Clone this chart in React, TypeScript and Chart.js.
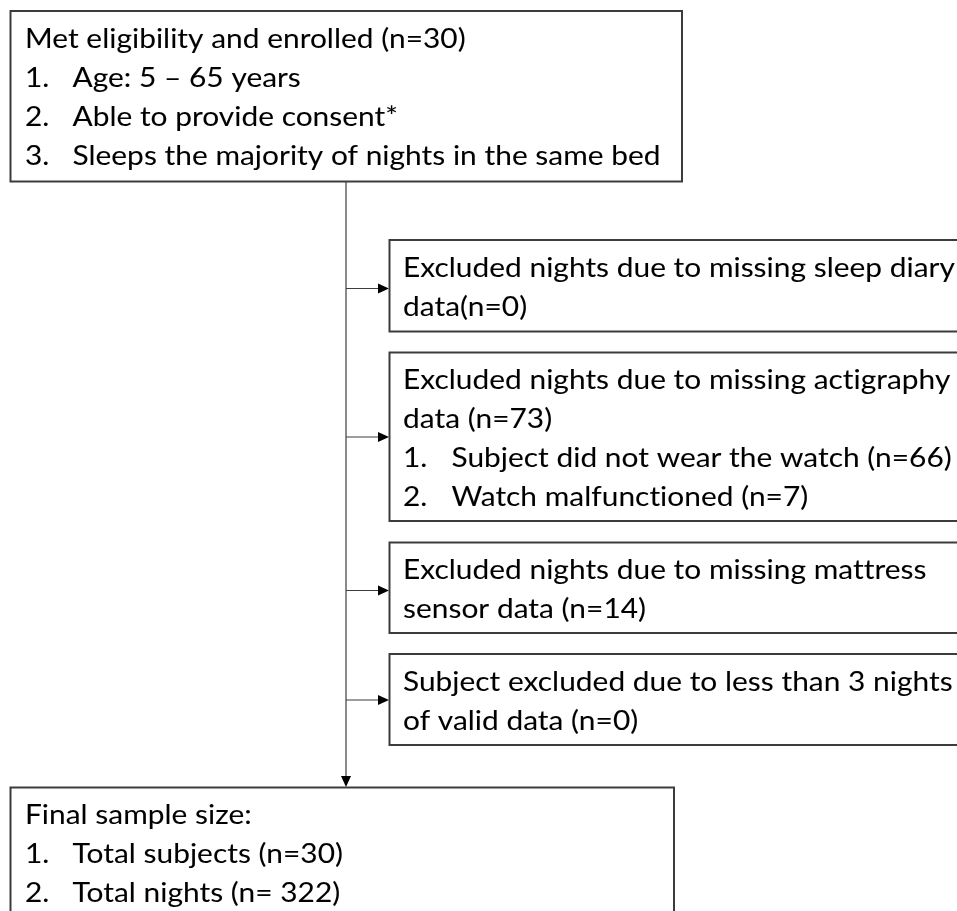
import React, { useEffect, useRef } from "react";
import { Chart, registerables } from "chart.js";

Chart.register(...registerables);

// ---- content (the "data" of this flow diagram) ----
const enrolledTitle = "Met eligibility and enrolled (n=30)";
const enrolledItems = [
  "Age: 5 \u2013 65 years",
  "Able to provide consent*",
  "Sleeps the majority of nights in the same bed",
];
const diaryLines = ["Excluded nights due to missing sleep diary", "data(n=0)"];
const actigraphyLines = ["Excluded nights due to missing actigraphy", "data (n=73)"];
const actigraphyItems = ["Subject did not wear the watch (n=66)", "Watch malfunctioned (n=7)"];
const mattressLines = ["Excluded nights due to missing mattress", "sensor data (n=14)"];
const validLines = ["Subject excluded due to less than 3 nights", "of valid data (n=0)"];
const finalTitle = "Final sample size:";
const finalItems = ["Total subjects (n=30)", "Total nights (n= 322)"];

// ---- layout (chart-coordinate space 0..957 x 0..911) ----
const W = 957;
const H = 911;
const TRUNK_X = 346;
const TOP_BOX = { x0: 10.5, y0: 11, x1: 682, y1: 181.5 };
const FINAL_BOX = { x0: 10.5, y0: 787.5, x1: 674, y1: 930 };
const SIDE_X0 = 389.5;
const SIDE_X1 = 975;
const SIDE_BOXES = [
  { y0: 240, y1: 331.5, arrowY: 288.5 },
  { y0: 352.5, y1: 521, arrowY: 437 },
  { y0: 542.5, y1: 633, arrowY: 590.5 },
  { y0: 654, y1: 745, arrowY: 700 },
];

type Line = { text: string; num?: string };

function buildLines(plain: string[], items: string[] = []): Line[] {
  return [
    ...plain.map((t) => ({ text: t })),
    ...items.map((t, i) => ({ text: t, num: `${i + 1}.` })),
  ];
}

const FONT_FAMILY = "Lato, 'Open Sans', sans-serif";
const FONT_SIZE = 26;

export default function App() {
  const ref = useRef<HTMLCanvasElement | null>(null);

  useEffect(() => {
    document.body.style.margin = "0";
    const canvas = ref.current!;
    const sideContents = [
      buildLines(diaryLines),
      buildLines(actigraphyLines, actigraphyItems),
      buildLines(mattressLines),
      buildLines(validLines),
    ];
    const topContent = buildLines([enrolledTitle], enrolledItems);
    const finalContent = buildLines([finalTitle], finalItems);

    const flowPlugin = {
      id: "flow",
      afterDraw(chart: any) {
        const ctx: CanvasRenderingContext2D = chart.ctx;
        const xs = chart.scales.x;
        const ys = chart.scales.y;
        const px = (v: number) => xs.getPixelForValue(v);
        const py = (v: number) => ys.getPixelForValue(v);

        const setFont = () => {
          ctx.font = `${FONT_SIZE}px ${FONT_FAMILY}`;
          try {
            (ctx as any).letterSpacing = "0.02px";
          } catch (e) {}
        };

        // horizontal compression so the longest top-box line spans ~588px
        ctx.save();
        setFont();
        const refW = ctx.measureText(enrolledItems[2]).width;
        const sx = 588 / refW;
        ctx.restore();

        const rect = (b: { x0: number; y0: number; x1: number; y1: number }) => {
          ctx.save();
          ctx.strokeStyle = "#3c3c3c";
          ctx.lineWidth = 2;
          ctx.strokeRect(px(b.x0), py(b.y0), px(b.x1) - px(b.x0), py(b.y1) - py(b.y0));
          ctx.restore();
        };

        const drawText = (s: string, x: number, y: number) => {
          ctx.save();
          ctx.translate(x, y);
          ctx.scale(sx, 1);
          ctx.fillText(s, 0, 0);
          ctx.strokeText(s, 0, 0);
          ctx.restore();
        };

        const text = (lines: Line[], x: number, y0: number, numIndent: number) => {
          ctx.save();
          ctx.fillStyle = "#000";
          ctx.strokeStyle = "rgba(0,0,0,0.5)";
          ctx.lineWidth = 0.12;
          setFont();
          ctx.textBaseline = "alphabetic";
          lines.forEach((l, i) => {
            const yy = py(y0 + 36.5 + i * 39);
            if (l.num) {
              drawText(l.num, px(x), yy);
              drawText(l.text, px(x + numIndent), yy);
            } else {
              drawText(l.text, px(x), yy);
            }
          });
          ctx.restore();
        };

        const arrowHead = (x: number, y: number, dir: "right" | "down") => {
          ctx.save();
          ctx.fillStyle = "#000";
          ctx.beginPath();
          if (dir === "right") {
            ctx.moveTo(px(x), py(y));
            ctx.lineTo(px(x - 11), py(y - 5));
            ctx.lineTo(px(x - 11), py(y + 5));
          } else {
            ctx.moveTo(px(x), py(y));
            ctx.lineTo(px(x - 5), py(y - 11));
            ctx.lineTo(px(x + 5), py(y - 11));
          }
          ctx.closePath();
          ctx.fill();
          ctx.restore();
        };

        // trunk and branches
        ctx.save();
        ctx.strokeStyle = "#3c3c3c";
        ctx.lineWidth = 1.2;
        ctx.beginPath();
        ctx.moveTo(px(TRUNK_X), py(TOP_BOX.y1));
        ctx.lineTo(px(TRUNK_X), py(FINAL_BOX.y0 - 10));
        ctx.stroke();
        SIDE_BOXES.forEach((b) => {
          ctx.beginPath();
          ctx.moveTo(px(TRUNK_X), py(b.arrowY));
          ctx.lineTo(px(SIDE_X0 - 10), py(b.arrowY));
          ctx.stroke();
        });
        ctx.restore();
        SIDE_BOXES.forEach((b) => arrowHead(SIDE_X0 - 0.5, b.arrowY, "right"));
        arrowHead(TRUNK_X, FINAL_BOX.y0 - 0.5, "down");

        rect(TOP_BOX);
        rect(FINAL_BOX);
        SIDE_BOXES.forEach((b) => rect({ x0: SIDE_X0, y0: b.y0, x1: SIDE_X1, y1: b.y1 }));

        text(topContent, 25, TOP_BOX.y0, 47.5);
        text(finalContent, 25, FINAL_BOX.y0, 47.5);
        SIDE_BOXES.forEach((b, i) => text(sideContents[i], 403, b.y0, 48.5));
      },
    };

    const chart = new Chart(canvas, {
      type: "scatter",
      data: { datasets: [{ data: [], pointRadius: 0 }] },
      options: {
        animation: false,
        responsive: false,
        maintainAspectRatio: false,
        layout: { padding: 0 },
        plugins: { legend: { display: false }, tooltip: { enabled: false } },
        scales: {
          x: { type: "linear", min: 0, max: W, display: false },
          y: { type: "linear", min: 0, max: H, reverse: true, display: false },
        },
      },
      plugins: [flowPlugin],
    });
    return () => chart.destroy();
  }, []);

  return (
    <div style={{ position: "absolute", left: 0, top: 0, width: W, height: H, background: "#fff" }}>
      <canvas ref={ref} width={W} height={H} style={{ display: "block" }} />
    </div>
  );
}
